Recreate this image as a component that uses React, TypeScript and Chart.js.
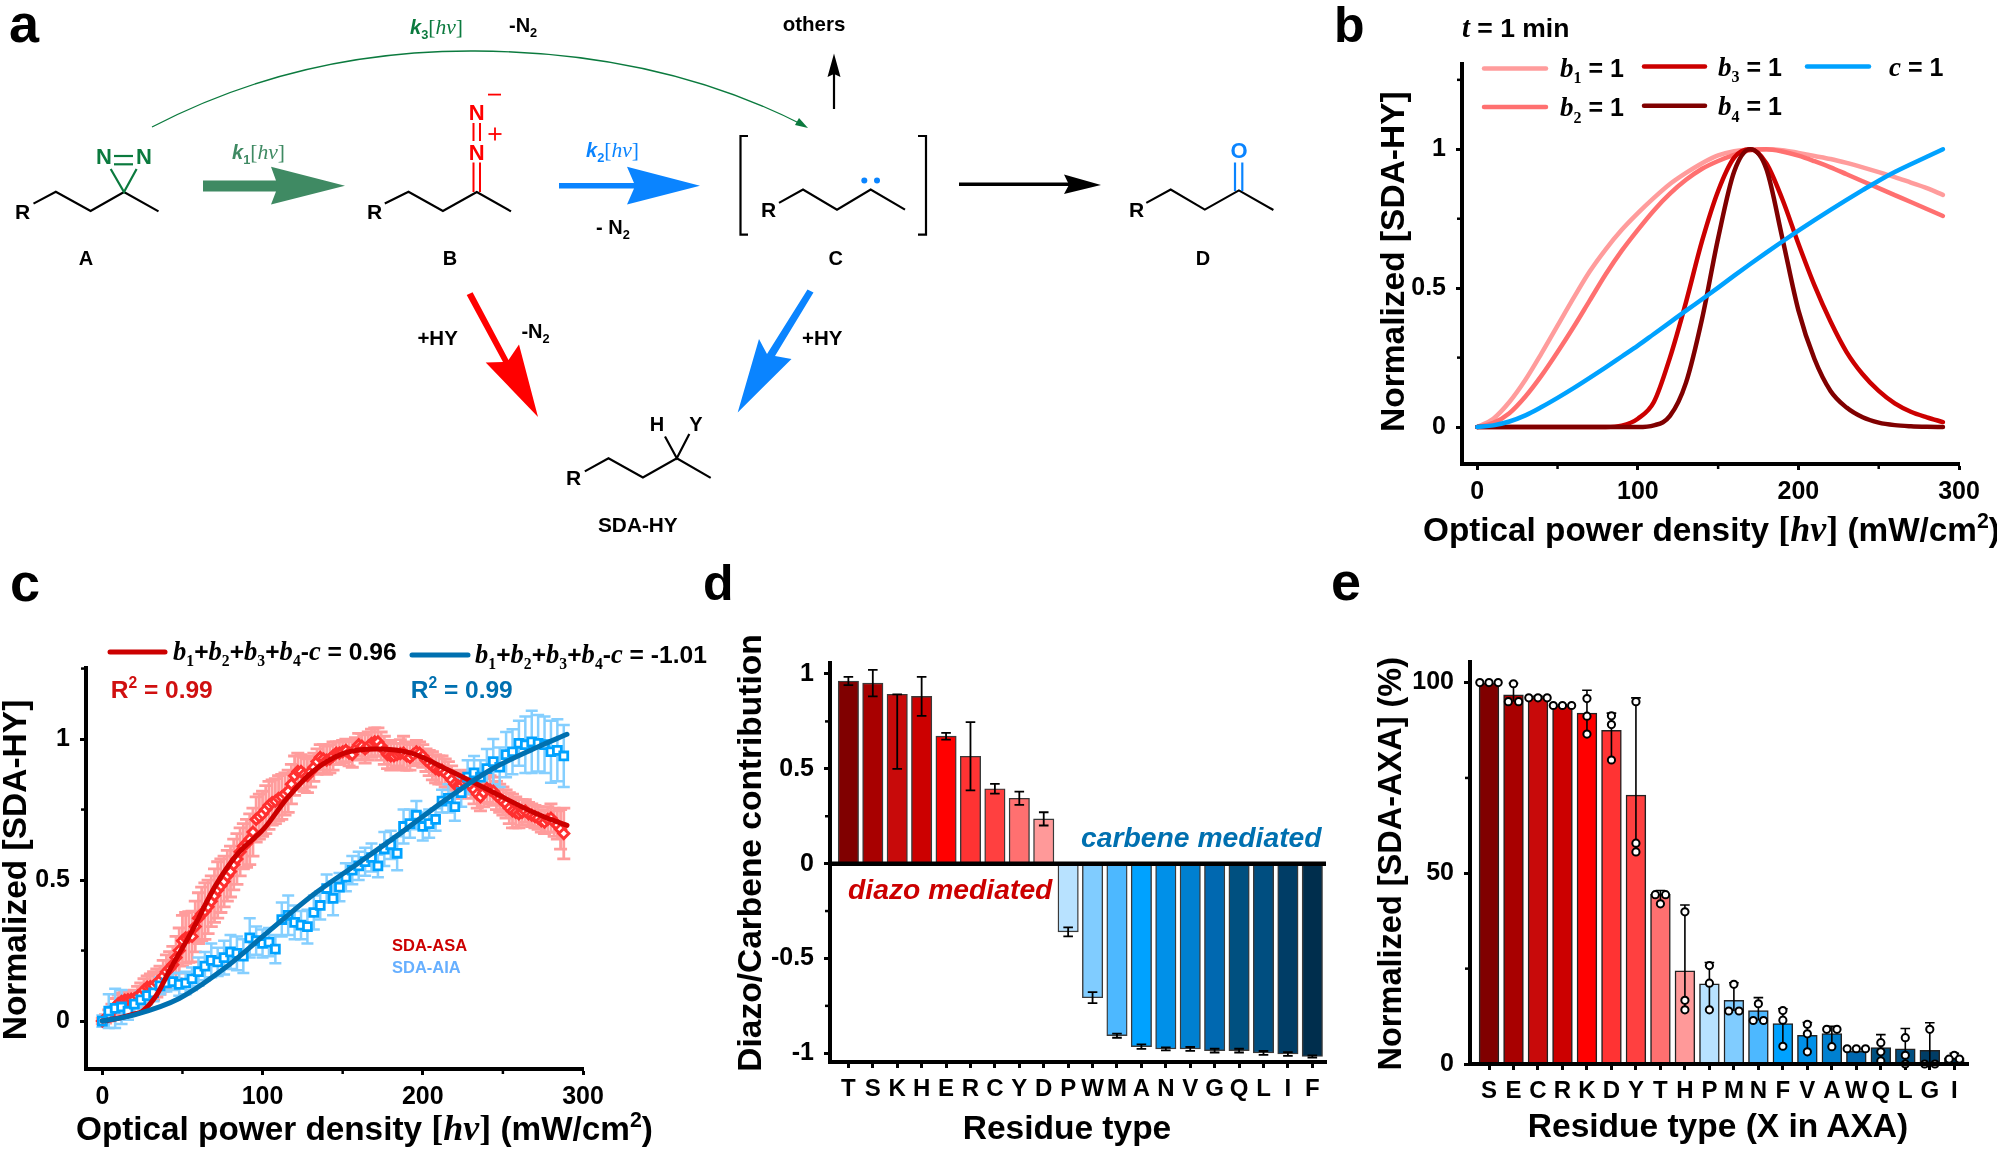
import React, { useEffect, useRef } from "react";
import { Chart, registerables } from "chart.js";

Chart.register(...registerables);

const SANS = "'Liberation Sans', Arial, sans-serif";
const SERIF = "'Liberation Serif', serif";

// ---------- panel b ----------
const bX = [0,10,20,30,40,50,60,70,80,90,100,110,120,130,140,150,160,170,180,190,200,210,220,230,240,250,260,270,280,290];
const bB1 = [0,.03,.09,.17,.265,.365,.465,.56,.64,.71,.77,.825,.875,.915,.95,.978,.993,.999,1,.997,.987,.976,.965,.951,.935,.918,.9,.88,.86,.836];
const bB2 = [0,.015,.05,.11,.185,.27,.36,.455,.55,.635,.71,.78,.84,.89,.93,.958,.98,.996,1,.992,.977,.957,.935,.91,.885,.86,.835,.81,.785,.76];
const bB3 = [0,0,0,0,0,0,0,0,0,.005,.03,.09,.25,.45,.67,.85,.97,1,.95,.82,.66,.51,.38,.27,.19,.13,.085,.055,.035,.018];
const bB4 = [0,0,0,0,0,0,0,0,0,0,0,.006,.04,.16,.39,.68,.92,1,.93,.68,.42,.245,.13,.07,.035,.016,.007,.003,.001,0];
const bC = [0,.006,.02,.042,.072,.105,.14,.177,.215,.254,.293,.335,.377,.419,.46,.502,.545,.587,.628,.668,.707,.745,.782,.818,.853,.887,.918,.946,.973,1];
const xTicksPower = [0,100,200,300];
const xMinorPower = [50,150,250];
const yTicksNorm = [0,0.5,1];
const yMinorNorm = [0.25,0.75,1.25];

// ---------- panel c ----------
const cAsaX = [0,2,4,6,8,10,12,14,16,18,20,22,24,26,28,30,32,34,36,38,40,42,44,46,48,50,52,54,56,58,60,62,64,66,68,70,72,74,76,78,80,82,84,86,88,90,92,94,96,98,100,102,104,106,108,110,112,114,116,118,120,122,124,126,128,130,132,134,136,138,140,142,144,146,148,150,152,154,156,158,160,162,164,166,168,170,172,174,176,178,180,182,184,186,188,190,192,194,196,198,200,202,204,206,208,210,212,214,216,218,220,222,224,226,228,230,232,234,236,238,240,242,244,246,248,250,252,254,256,258,260,262,264,266,268,270,272,274,276,278,280,282,284,286,288];
const cAsa = [0,.008,.02,.035,.05,.062,.07,.074,.076,.078,.08,.088,.095,.11,.12,.122,.125,.135,.145,.16,.175,.186,.2,.225,.25,.285,.295,.298,.3,.335,.365,.38,.39,.405,.425,.445,.465,.48,.495,.515,.53,.555,.575,.6,.62,.63,.645,.67,.715,.725,.735,.75,.765,.775,.78,.79,.795,.805,.815,.84,.87,.885,.885,.875,.87,.885,.9,.92,.935,.93,.925,.93,.94,.95,.95,.955,.96,.95,.945,.965,.98,.975,.965,.975,.985,.99,.99,.975,.96,.945,.94,.94,.945,.948,.95,.94,.935,.945,.955,.95,.94,.925,.915,.905,.895,.89,.89,.88,.87,.855,.84,.835,.835,.845,.85,.835,.82,.805,.795,.81,.825,.82,.815,.8,.79,.78,.77,.755,.745,.74,.735,.74,.745,.735,.73,.725,.72,.71,.705,.715,.72,.705,.695,.68,.665];
const cAsaErr = [.01,.015,.02,.025,.03,.03,.03,.03,.03,.03,.03,.035,.04,.04,.04,.045,.05,.05,.05,.055,.06,.06,.065,.075,.08,.09,.09,.09,.09,.09,.09,.095,.1,.095,.09,.095,.1,.095,.09,.09,.09,.09,.09,.085,.08,.085,.09,.085,.08,.08,.08,.085,.085,.08,.08,.08,.08,.075,.075,.07,.07,.065,.06,.06,.06,.055,.05,.045,.045,.05,.05,.05,.05,.04,.04,.04,.04,.045,.045,.04,.04,.045,.05,.05,.05,.05,.05,.05,.05,.05,.05,.045,.04,.05,.06,.05,.045,.04,.04,.04,.04,.04,.045,.05,.05,.05,.05,.05,.05,.05,.05,.045,.04,.04,.04,.045,.05,.05,.05,.05,.05,.05,.05,.05,.05,.05,.05,.055,.06,.055,.05,.045,.04,.04,.04,.04,.04,.04,.04,.045,.05,.05,.05,.07,.09];
const cAiaX = [0,4,8,12,16,20,24,28,32,36,40,44,48,52,56,60,64,68,72,76,80,84,88,92,96,100,104,108,112,116,120,124,128,132,136,140,144,148,152,156,160,164,168,172,176,180,184,188,192,196,200,204,208,212,216,220,224,228,232,236,240,244,248,252,256,260,264,268,272,276,280,284,288];
const cAia = [0,.035,.045,.05,.035,.06,.075,.09,.1,.125,.135,.14,.13,.135,.15,.175,.195,.215,.21,.225,.245,.24,.23,.295,.285,.275,.28,.255,.36,.375,.35,.34,.335,.385,.41,.47,.435,.475,.51,.535,.55,.565,.58,.55,.61,.625,.595,.69,.7,.73,.69,.7,.715,.78,.79,.76,.81,.865,.88,.865,.895,.92,.9,.945,.955,.985,.98,.99,.985,.98,.955,.96,.94];
const cAiaErr = [.02,.06,.07,.06,.03,.03,.03,.03,.03,.03,.03,.03,.04,.04,.04,.05,.05,.06,.05,.06,.06,.06,.06,.07,.05,.05,.05,.05,.06,.07,.06,.05,.06,.06,.05,.05,.06,.05,.05,.05,.05,.05,.05,.04,.06,.05,.06,.06,.05,.05,.05,.05,.04,.04,.05,.05,.05,.06,.06,.06,.07,.08,.07,.08,.08,.08,.1,.11,.1,.1,.11,.11,.11];
const cFitRedX = [0,10,20,25,34,42,56,70,84,101,115,131.6,151,171,193,215,243,271,290];
const cFitRed = [0,.01,.025,.035,.094,.18,.32,.474,.59,.683,.788,.886,.95,.965,.95,.893,.814,.735,.694];
const cFitBlueX = [0,20,48,76,103.6,131.6,159.5,187,215,243,271,290];
const cFitBlue = [0,.022,.08,.186,.317,.448,.559,.67,.788,.893,.97,1.017];

// ---------- panel d ----------
const dCats = ["T","S","K","H","E","R","C","Y","D","P","W","M","A","N","V","G","Q","L","I","F"];
const dVals = [.963,.952,.893,.882,.672,.566,.395,.345,.236,-.36,-.707,-.907,-.965,-.977,-.977,-.986,-.986,-.998,-1.004,-1.017];
const dLow = [.022,.07,.393,.103,.018,.18,.026,.035,.035,.024,.029,.011,.012,.008,.01,.01,.01,.01,.01,.006];
const dHigh = [.022,.07,0,.103,.018,.18,.026,.035,.035,.024,.029,.011,.012,.008,.01,.01,.01,.01,.01,.006];
const dColors = ["#800000","#A80000","#C80A0A","#CC0000","#FF0000","#FF3333","#FF4040","#FF7070","#FF9999","#B8E2FF","#80CCFF","#4DB8FF","#00A2FF","#0090E8","#0080D0","#0068B0","#005080","#004E80","#003D66","#002E4D"];
const dTicks = [-1,-0.5,0,0.5,1];
const dMinor = [-0.75,-0.25,0.25,0.75];

// ---------- panel e ----------
const eCats = ["S","E","C","R","K","D","Y","T","H","P","M","N","F","V","A","W","Q","L","G","I"];
const eVals = [99.8,96.8,96.1,93.9,92,87.5,70.5,44.5,24.4,21,16.7,14,10.6,7.5,8,3.3,4.3,4,3.6,1.6];
const eHigh = [0,3,.3,.3,6,4.5,25.5,1,17.3,5.6,4.6,3.4,3.9,3.4,1.9,.1,3.4,5.3,7.2,1.2];
const eDots = [[100,100,100],[99.7,95,95],[96,96,96],[94,94,94],[95.8,91.2,86.5],[91.3,89,79.7],[95,57.9,55.6],[44.4,44.4,42],[39.9,16.7,14.2],[25.8,21.2,14.2],[20.9,13.9,13.9],[15.8,11.4,11.4],[14,11.5,4.65],[10.4,7.9,3.2],[9.1,9.1,4.55],[4,4,4],[5.6,3.2,.8],[6.9,2.3,0],[9.1,0,0],[2.3,1.3,1.3]];
const eColors = ["#800000","#A80000","#C80A0A","#CC0000","#FF0000","#FF3333","#FF4040","#FF7070","#FF9999","#B8E2FF","#80CCFF","#4DB8FF","#00A2FF","#0090E8","#0080D0","#0068B0","#005080","#004E80","#003D66","#002E4D"];
const eTicks = [0,50,100];
const eMinor = [25,75];

const LM = 70, BM = 60, TM = 30, RM = 34;

function minorPlugin(xMinor: number[], yMinor: number[]) {
  return {
    id: "minorTicks",
    afterDraw(chart: any) {
      const { ctx, chartArea: a, scales } = chart;
      ctx.save();
      ctx.strokeStyle = "#000";
      ctx.lineWidth = 2.5;
      xMinor.forEach((v) => {
        const p = scales.x.getPixelForValue(v);
        ctx.beginPath(); ctx.moveTo(p, a.bottom); ctx.lineTo(p, a.bottom + 5); ctx.stroke();
      });
      yMinor.forEach((v) => {
        const p = scales.y.getPixelForValue(v);
        ctx.beginPath(); ctx.moveTo(a.left, p); ctx.lineTo(a.left - 5, p); ctx.stroke();
      });
      ctx.restore();
    },
  };
}

function drawErr(chart: any, xs: number[], ys: number[], lo: number[], hi: number[], color: string, lw: number, cap: number, bottomCap: boolean) {
  const { ctx, scales } = chart;
  ctx.save();
  ctx.strokeStyle = color;
  ctx.lineWidth = lw;
  xs.forEach((xv, i) => {
    if (lo[i] === 0 && hi[i] < 0.2) return;
    const x = scales.x.getPixelForValue(xv);
    const t = scales.y.getPixelForValue(ys[i] + hi[i]);
    const b = scales.y.getPixelForValue(ys[i] - lo[i]);
    ctx.beginPath();
    ctx.moveTo(x, t); ctx.lineTo(x, b);
    ctx.moveTo(x - cap, t); ctx.lineTo(x + cap, t);
    if (bottomCap) { ctx.moveTo(x - cap, b); ctx.lineTo(x + cap, b); }
    ctx.stroke();
  });
  ctx.restore();
}

function baseScale(axis: "x" | "y", min: number, max: number, ticks: number[], fontSize: number, padding: number, label?: (v: number) => string, z = 0) {
  return {
    type: "linear",
    offset: false,
    min,
    max,
    afterBuildTicks: (s: any) => { s.ticks = ticks.map((value) => ({ value })); },
    afterFit: (s: any) => { if (axis === "x") s.height = BM; else s.width = LM; },
    grid: { display: true, offset: false, drawOnChartArea: false, drawTicks: true, tickLength: 6, tickWidth: 3, tickColor: "#000" },
    border: { display: true, color: "#000", width: 4, z },
    ticks: {
      autoSkip: false, maxRotation: 0, minRotation: 0, color: "#000", padding,
      font: { family: SANS, size: fontSize, weight: "bold" },
      callback: label || ((v: any) => String(v)),
    },
  };
}

function ChartCanvas({ plot, config }: { plot: { l: number; t: number; r: number; b: number }; config: () => any }) {
  const ref = useRef<HTMLCanvasElement | null>(null);
  const w = plot.r - plot.l + LM + RM;
  const h = plot.b - plot.t + TM + BM;
  useEffect(() => {
    const cfg = config();
    cfg.options = {
      responsive: false,
      animation: false,
      devicePixelRatio: 1,
      layout: { autoPadding: false, padding: { left: 0, top: TM, right: RM, bottom: 0 } },
      plugins: { legend: { display: false }, title: { display: false }, tooltip: { enabled: false } },
      events: [],
      ...cfg.options,
    };
    const chart = new Chart(ref.current as HTMLCanvasElement, cfg);
    return () => chart.destroy();
  }, []);
  return (
    <canvas
      ref={ref}
      width={w}
      height={h}
      style={{ position: "absolute", left: plot.l - LM, top: plot.t - TM, width: w, height: h }}
    />
  );
}

const xy = (xs: number[], ys: number[]) => xs.map((x, i) => ({ x, y: ys[i] }));

function bConfig() {
  const line = (label: string, ys: number[], color: string, order: number) => ({
    label, data: xy(bX, ys), borderColor: color, borderWidth: 4.5, pointRadius: 0,
    cubicInterpolationMode: "monotone", borderCapStyle: "round", clip: false, order,
  });
  return {
    type: "line",
    data: {
      datasets: [
        line("b1 = 1", bB1, "#FF9C9C", 4),
        line("b2 = 1", bB2, "#FF7070", 3),
        line("b3 = 1", bB3, "#CC0000", 2),
        line("b4 = 1", bB4, "#800000", 1),
        line("c = 1", bC, "#00A2FF", 0),
      ],
    },
    options: {
      scales: {
        x: baseScale("x", -9.5, 300, xTicksPower, 25, 7),
        y: baseScale("y", -0.133, 1.307, yTicksNorm, 25, 10),
      },
    },
    plugins: [minorPlugin(xMinorPower, yMinorNorm)],
  };
}

function cConfig() {
  const fit = (label: string, xs: number[], ys: number[], color: string, order: number) => ({
    type: "line", label, data: xy(xs, ys), borderColor: color, borderWidth: 5, pointRadius: 0,
    cubicInterpolationMode: "monotone", borderCapStyle: "round", clip: false, order,
  });
  const pts = (label: string, xs: number[], ys: number[], color: string, style: string, radius: number, bw: number, order: number) => ({
    type: "line", label, data: xy(xs, ys), showLine: false, pointStyle: style, pointRadius: radius,
    pointBorderColor: color, pointBackgroundColor: "#FFFFFF", pointBorderWidth: bw, clip: false, order,
  });
  return {
    type: "line",
    data: {
      datasets: [
        fit("fit blue", cFitBlueX, cFitBlue, "#0070B0", 0),
        fit("fit red", cFitRedX, cFitRed, "#CC0000", 1),
        pts("SDA-AIA", cAiaX, cAia, "#00A2FF", "rect", 5.6, 2.8, 2),
        pts("SDA-ASA", cAsaX, cAsa, "#FF3030", "rectRot", 5, 3, 3),
      ],
    },
    options: {
      scales: {
        x: baseScale("x", -10.2, 300, xTicksPower, 25, 7),
        y: baseScale("y", -0.17, 1.252, yTicksNorm, 25, 10),
      },
    },
    plugins: [
      minorPlugin(xMinorPower, yMinorNorm),
      {
        id: "errC",
        beforeDatasetsDraw(chart: any) {
          drawErr(chart, cAsaX, cAsa, cAsaErr, cAsaErr, "#FF9C9C", 2.8, 6.5, true);
          drawErr(chart, cAiaX, cAia, cAiaErr, cAiaErr, "#85CFFF", 2.5, 6, true);
        },
      },
    ],
  };
}

function dConfig() {
  const idx = dCats.map((_, i) => i);
  return {
    type: "bar",
    data: {
      datasets: [
        {
          label: "Diazo/Carbene contribution",
          data: xy(idx, dVals),
          backgroundColor: dColors,
          borderColor: "#3A3A3A",
          borderWidth: 1.4,
          barThickness: 20.4,
        },
      ],
    },
    options: {
      scales: {
        x: baseScale("x", -0.753, 19.56, idx, 24, 7, (v: number) => dCats[v]),
        y: baseScale("y", -1.046, 1.058, dTicks, 25, 10),
      },
    },
    plugins: [
      minorPlugin([], dMinor),
      {
        id: "errD",
        afterDatasetsDraw(chart: any) {
          const { ctx, chartArea: a, scales } = chart;
          drawErr(chart, idx, dVals, dLow, dHigh, "#000", 1.8, 4.8, true);
          const y0 = scales.y.getPixelForValue(0);
          ctx.save();
          ctx.strokeStyle = "#000";
          ctx.lineWidth = 4.5;
          ctx.beginPath(); ctx.moveTo(a.left, y0); ctx.lineTo(a.right, y0); ctx.stroke();
          ctx.restore();
        },
      },
    ],
  };
}

function eConfig() {
  const idx = eCats.map((_, i) => i);
  const dots: { x: number; y: number }[] = [];
  eDots.forEach((triple, i) => {
    const same = triple.map((v) => triple.filter((u) => u === v).length);
    const seen: Record<string, number> = {};
    triple.forEach((v, j) => {
      const n = same[j];
      const k = seen[v] || 0;
      seen[v] = k + 1;
      const off = n === 3 ? [-0.375, 0, 0.375][k] : n === 2 ? [-0.21, 0.21][k] : 0;
      dots.push({ x: i + off, y: v });
    });
  });
  const eLow = eVals.map((v, i) => Math.max(0, v - Math.min(...eDots[i])));
  return {
    type: "bar",
    data: {
      datasets: [
        {
          label: "Normalized [SDA-AXA] (%)",
          data: xy(idx, eVals),
          backgroundColor: eColors,
          borderColor: "#222222",
          borderWidth: 1.5,
          barThickness: 19.8,
          order: 2,
        },
        {
          type: "scatter",
          label: "replicates",
          data: dots,
          pointStyle: "circle",
          pointRadius: 3.6,
          pointBackgroundColor: "#FFFFFF",
          pointBorderColor: "#000000",
          pointBorderWidth: 2,
          clip: false,
          order: 1,
        },
      ],
    },
    options: {
      scales: {
        x: baseScale("x", -0.776, 19.56, idx, 24, 7, (v: number) => eCats[v], 1),
        y: baseScale("y", 0, 105.4, eTicks, 25, 10),
      },
    },
    plugins: [
      minorPlugin([], eMinor),
      {
        id: "errE",
        beforeDatasetDraw(chart: any, args: any) {
          if (args.index === 1) drawErr(chart, idx, eVals, eLow, eHigh, "#000", 1.6, 4.8, false);
        },
      },
    ],
  };
}

type Part = [string, string?];

function Rich({ x, y, size, fill = "#000", parts, rotate, anchor = "start" }: { x: number; y: number; size: number; fill?: string; parts: Part[]; rotate?: boolean; anchor?: string }) {
  let shift = 0;
  const spans = parts.map(([t, k = "s"], i) => {
    const isSub = k === "sub" || k === "vsub";
    const isSup = k === "sup";
    const target = isSub ? size * 0.26 : isSup ? -size * 0.4 : 0;
    const dy = target - shift;
    shift = target;
    const serif = ["v", "vsub", "u", "vr", "ur"].includes(k);
    const italic = k === "v" || k === "si" || k === "vr";
    const light = k === "vr" || k === "ur";
    const scale = isSub || isSup ? 0.64 : serif ? 1.08 : 1;
    return (
      <tspan
        key={i}
        dy={dy}
        fontFamily={serif ? SERIF : SANS}
        fontStyle={italic ? "italic" : "normal"}
        fontWeight={light ? "normal" : "bold"}
        fontSize={size * scale}
      >
        {t}
      </tspan>
    );
  });
  return (
    <text
      x={x}
      y={y}
      fill={fill}
      fontWeight="bold"
      textAnchor={anchor as any}
      style={{ whiteSpace: "pre" }}
      transform={rotate ? `rotate(-90 ${x} ${y})` : undefined}
    >
      {spans}
    </text>
  );
}

const GREEN = "#0B7A3E", SOFTGREEN = "#3F8A63", BLUE = "#0A84FF", RED = "#FF0000";
const sumLabel: Part[] = [["b","v"],["1","vsub"],["+","s"],["b","v"],["2","vsub"],["+","s"],["b","v"],["3","vsub"],["+","s"],["b","v"],["4","vsub"],["-","s"],["c","v"]];
const powerTitle: Part[] = [["Optical power density "],["[","u"],["hv","v"],["]","u"],[" (mW/cm"],["2","sup"],[")"]];
const rate = (n: string): Part[] => [["k","si"],[n,"sub"],["[","ur"],["hv","vr"],["]","ur"]];

function Bonds({ pts, color = "#000", w = 2.2 }: { pts: string; color?: string; w?: number }) {
  return <polyline points={pts} fill="none" stroke={color} strokeWidth={w} strokeLinejoin="miter" />;
}

function Scheme() {
  const lab = (t: string, x: number, y: number, fill = "#000", size = 20, anchor = "start") => (
    <Rich x={x} y={y} size={size} fill={fill} parts={[[t]]} anchor={anchor} />
  );
  return (
    <g>
      <path d="M152,127 Q300,50 475,51 Q660,52 803,125" fill="none" stroke={GREEN} strokeWidth={1.3} />
      <polygon points="808,128 795,125 799,118" fill={GREEN} />
      {lab("R", 15, 219, "#000", 21)}
      <Bonds pts="33.5,203.6 55.8,191.8 90.6,211 124,192 158.5,211.4" />
      <Bonds pts="110.7,169 124,192 136.6,169" color={GREEN} />
      <line x1="114" y1="156" x2="133" y2="156" stroke={GREEN} strokeWidth={2.2} />
      <line x1="114" y1="164.3" x2="133" y2="164.3" stroke={GREEN} strokeWidth={2.2} />
      {lab("N", 104, 164, GREEN, 22, "middle")}
      {lab("N", 144, 164, GREEN, 22, "middle")}
      {lab("A", 86, 265, "#000", 20, "middle")}
      <polygon points="203,180.4 276,180.4 271,166.8 345,185.7 271,204.6 276,191.4 203,191.4" fill={SOFTGREEN} />
      <Rich x={232} y={159} size={20} fill={SOFTGREEN} parts={rate("1")} />
      <Rich x={410} y={34} size={20} fill={GREEN} parts={rate("3")} />
      <Rich x={509} y={32} size={20} parts={[["-N"],["2","sub"]]} />
      {lab("R", 367, 219, "#000", 21)}
      <Bonds pts="384.8,203.6 408.5,191.8 442.9,211 476.8,192 511,211.4" />
      <line x1="473.5" y1="162.5" x2="473.5" y2="192" stroke={RED} strokeWidth={2} />
      <line x1="480" y1="162.5" x2="480" y2="192" stroke={RED} strokeWidth={2} />
      <line x1="473.5" y1="123" x2="473.5" y2="141" stroke={RED} strokeWidth={2} />
      <line x1="480" y1="123" x2="480" y2="141" stroke={RED} strokeWidth={2} />
      {lab("N", 476.8, 120, RED, 22, "middle")}
      {lab("N", 476.8, 160, RED, 22, "middle")}
      <line x1="488" y1="94.6" x2="501" y2="94.6" stroke={RED} strokeWidth={1.8} />
      <line x1="488.5" y1="134" x2="501.5" y2="134" stroke={RED} strokeWidth={1.8} />
      <line x1="495" y1="127.5" x2="495" y2="140.5" stroke={RED} strokeWidth={1.8} />
      {lab("B", 450, 265, "#000", 20, "middle")}
      <polygon points="559,183 634,183 627,166.8 700,185.7 627,204.6 634,188.6 559,188.6" fill={BLUE} />
      <Rich x={586} y={157} size={20} fill={BLUE} parts={rate("2")} />
      <Rich x={596} y={234} size={20} parts={[["- N"],["2","sub"]]} />
      <Bonds pts="748,136 740.5,136 740.5,234.6 748,234.6" />
      <Bonds pts="918,136 926,136 926,234.6 918,234.6" />
      {lab("R", 761, 217, "#000", 21)}
      <Bonds pts="779,202.9 803,189.6 837,209.6 870.7,189.6 905,209.6" />
      <circle cx="864.3" cy="180.4" r="3" fill={BLUE} />
      <circle cx="877" cy="180.4" r="3" fill={BLUE} />
      {lab("C", 835.7, 265, "#000", 20, "middle")}
      {lab("others", 782.7, 31.4, "#000", 20.5)}
      <line x1="834" y1="109" x2="834" y2="72" stroke="#000" strokeWidth={2.2} />
      <polygon points="834,53.6 840.5,77 834,74 827.5,77" fill="#000" />
      <line x1="959" y1="184.3" x2="1070" y2="184.3" stroke="#000" strokeWidth={3.6} />
      <polygon points="1101,185 1064,174.6 1069,184.7 1064,194" fill="#000" />
      {lab("R", 1129, 217, "#000", 21)}
      <Bonds pts="1146.3,202.9 1170.7,189.6 1204.8,209.6 1238.9,190.4 1273.4,210" />
      <line x1="1235" y1="162.5" x2="1235" y2="191" stroke={BLUE} strokeWidth={2.2} />
      <line x1="1242.3" y1="162.5" x2="1242.3" y2="191" stroke={BLUE} strokeWidth={2.2} />
      {lab("O", 1239, 158, BLUE, 22, "middle")}
      {lab("D", 1203, 265, "#000", 20, "middle")}
      <polygon points="466.7,295 472.6,292.3 508.5,360 519,344.6 538,417 485.7,362.5 503,362" fill={RED} />
      {lab("+HY", 417.4, 344.6, "#000", 20.5)}
      <Rich x={521.4} y={337.5} size={20} parts={[["-N"],["2","sub"]]} />
      <polygon points="807.5,289.5 813.5,292.5 775,356 791.5,359 737.7,412.5 759,339 767,354" fill={BLUE} />
      {lab("+HY", 802, 344.6, "#000", 20.5)}
      {lab("R", 566, 485, "#000", 21)}
      <Bonds pts="584.8,471.4 608.5,458.2 642.9,477.5 676.8,458.2 710.7,477.9" />
      <Bonds pts="665,436.4 676.8,458.2 689.3,434" />
      {lab("H", 657, 431.4, "#000", 20, "middle")}
      {lab("Y", 696, 431.4, "#000", 20, "middle")}
      {lab("SDA-HY", 598, 532, "#000", 20.8)}
    </g>
  );
}

function Overlay() {
  return (
    <svg width={1997} height={1149} style={{ position: "absolute", left: 0, top: 0, pointerEvents: "none" }}>
      <Scheme />
      <Rich x={9} y={42} size={54} parts={[["a"]]} />
      <Rich x={1334} y={42} size={50} parts={[["b"]]} />
      <Rich x={10} y={601} size={54} parts={[["c"]]} />
      <Rich x={703} y={600} size={50} parts={[["d"]]} />
      <Rich x={1331} y={600} size={54} parts={[["e"]]} />

      <Rich x={1462} y={36.5} size={26.5} parts={[["t","v"],[" = 1 min"]]} />
      <line x1="1484" y1="68.6" x2="1546" y2="68.6" stroke="#FF9C9C" strokeWidth={4.5} strokeLinecap="round" />
      <line x1="1484" y1="107" x2="1546" y2="107" stroke="#FF7070" strokeWidth={4.5} strokeLinecap="round" />
      <line x1="1644" y1="66.4" x2="1705" y2="66.4" stroke="#CC0000" strokeWidth={4.5} strokeLinecap="round" />
      <line x1="1644" y1="105.7" x2="1705" y2="105.7" stroke="#800000" strokeWidth={4.5} strokeLinecap="round" />
      <line x1="1807" y1="66.4" x2="1869" y2="66.4" stroke="#00A2FF" strokeWidth={4.5} strokeLinecap="round" />
      <Rich x={1560} y={76.8} size={25} parts={[["b","v"],["1","vsub"],[" = 1"]]} />
      <Rich x={1560} y={116} size={25} parts={[["b","v"],["2","vsub"],[" = 1"]]} />
      <Rich x={1718} y={75.7} size={25} parts={[["b","v"],["3","vsub"],[" = 1"]]} />
      <Rich x={1718} y={115} size={25} parts={[["b","v"],["4","vsub"],[" = 1"]]} />
      <Rich x={1889} y={75.7} size={25} parts={[["c","v"],[" = 1"]]} />
      <Rich x={1404} y={261.6} size={33.5} rotate anchor="middle" parts={[["Normalized [SDA-HY]"]]} />
      <Rich x={1423} y={541} size={33.3} parts={powerTitle} />

      <line x1="110" y1="652" x2="165" y2="652" stroke="#CC0000" strokeWidth={5} strokeLinecap="round" />
      <line x1="412" y1="655" x2="468" y2="655" stroke="#0070B0" strokeWidth={5} strokeLinecap="round" />
      <Rich x={173} y={660} size={24.6} parts={[...sumLabel, [" = 0.96"]]} />
      <Rich x={475} y={663} size={24.6} parts={[...sumLabel, [" = -1.01"]]} />
      <Rich x={110.7} y={698} size={24.5} fill="#D01010" parts={[["R"],["2","sup"],[" = 0.99"]]} />
      <Rich x={410.7} y={698} size={24.5} fill="#0070B0" parts={[["R"],["2","sup"],[" = 0.99"]]} />
      <Rich x={392} y={951} size={16.5} fill="#CC0000" parts={[["SDA-ASA"]]} />
      <Rich x={392} y={973} size={16.5} fill="#66AFFF" parts={[["SDA-AIA"]]} />
      <Rich x={26} y={870} size={33.5} rotate anchor="middle" parts={[["Normalized [SDA-HY]"]]} />
      <Rich x={76} y={1140} size={33.3} parts={powerTitle} />

      <Rich x={1081} y={847} size={28.3} fill="#0070B0" parts={[["carbene mediated","si"]]} />
      <Rich x={848} y={899.4} size={28.3} fill="#CC0000" parts={[["diazo mediated","si"]]} />
      <Rich x={761} y={853} size={33.5} rotate anchor="middle" parts={[["Diazo/Carbene contribution"]]} />
      <Rich x={1067} y={1139} size={33.5} anchor="middle" parts={[["Residue type"]]} />

      <Rich x={1401} y={863.7} size={32.5} rotate anchor="middle" parts={[["Normalized [SDA-AXA] (%)"]]} />
      <Rich x={1718} y={1137} size={33.5} anchor="middle" parts={[["Residue type (X in AXA)"]]} />
    </svg>
  );
}

export default function App() {
  return (
    <div style={{ position: "absolute", left: 0, top: 0, width: 1997, height: 1149, background: "#fff", overflow: "hidden" }}>
      <ChartCanvas plot={{ l: 1462, t: 64, r: 1959, b: 464 }} config={bConfig} />
      <ChartCanvas plot={{ l: 86, t: 668, r: 583, b: 1069 }} config={cConfig} />
      <ChartCanvas plot={{ l: 830, t: 663, r: 1326, b: 1062 }} config={dConfig} />
      <ChartCanvas plot={{ l: 1470, t: 662, r: 1968, b: 1064 }} config={eConfig} />
      <Overlay />
    </div>
  );
}
